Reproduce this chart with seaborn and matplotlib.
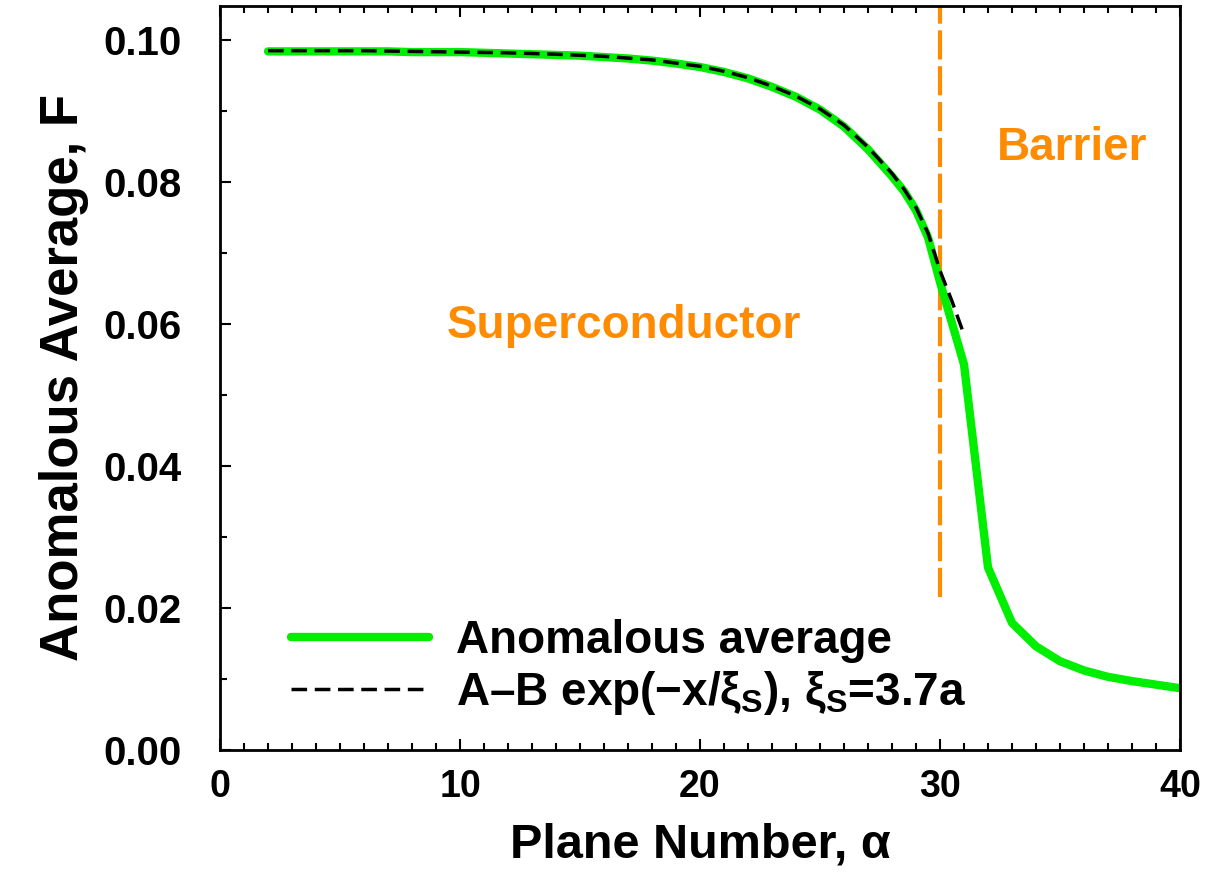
"""
Anomalous average across the superconductor / barrier interface.
"""

import numpy as np
import pandas as pd
import matplotlib
matplotlib.use("Agg")
import matplotlib.pyplot as plt
from matplotlib.ticker import MultipleLocator
import seaborn as sns

# Anomalous average per plane
planes = [2, 3, 4, 5, 6, 7, 8, 9, 10, 11, 12, 13, 14, 15, 16, 17, 18, 19, 20,
          21, 22, 23, 24, 25, 26, 27, 28, 28.5, 29, 29.5, 30, 31, 32, 33, 34,
          35, 36, 37, 38, 39, 40]
anomalous = [0.0984, 0.0984, 0.0984, 0.0984, 0.0984, 0.0984, 0.0983, 0.0983,
             0.0983, 0.0982, 0.0981, 0.0980, 0.0979, 0.0978, 0.0976, 0.0974,
             0.0971, 0.0967, 0.0962, 0.0955, 0.0946, 0.0934, 0.0920, 0.0902,
             0.0878, 0.0846, 0.0808, 0.0787, 0.0760, 0.0722, 0.0659, 0.0543,
             0.0257, 0.0179, 0.0146, 0.0125, 0.0112, 0.0103, 0.0097, 0.0092,
             0.0087]

# Exponential fit A - B exp(-x/xi_s), only over the superconductor side
fit_planes = [2, 4, 6, 8, 10, 12, 14, 16, 18, 20, 21, 22, 23, 24, 25, 26, 27,
              28, 28.5, 29, 29.5, 30, 30.5, 31]
fit_values = [0.0985, 0.0985, 0.0985, 0.0984, 0.0983, 0.0982, 0.0980, 0.0977,
              0.0972, 0.0963, 0.0956, 0.0947, 0.0935, 0.0921, 0.0903, 0.0880,
              0.0849, 0.0812, 0.0790, 0.0764, 0.0728, 0.0675, 0.0632, 0.0585]

barrier_start = 30
barrier_line_y = [0.0215, 0.11]

sns.set_theme(style="ticks")
plt.rcParams['font.family'] = ['Liberation Sans', 'DejaVu Sans']
plt.rcParams['font.weight'] = 'bold'
plt.rcParams['mathtext.fontset'] = 'custom'
plt.rcParams['mathtext.rm'] = 'Liberation Sans'
plt.rcParams['mathtext.it'] = 'Liberation Sans:italic'
for key in ['text.color', 'axes.labelcolor', 'xtick.color', 'ytick.color']:
    plt.rcParams[key] = 'black'

df = pd.DataFrame({"plane": planes, "F": anomalous})
df_fit = pd.DataFrame({"plane": fit_planes, "F": fit_values})

fig = plt.figure(figsize=(12.17, 8.75), dpi=100)
ax = fig.add_axes([0.1808, 0.1429, 0.7888, 0.8503])

orange = '#ff8c00'
ax.plot([barrier_start, barrier_start], barrier_line_y, color=orange,
        lw=3, dashes=(7, 1.6), zorder=1)

sns.lineplot(data=df, x="plane", y="F", ax=ax, color='#00ee00', lw=6,
             label="Anomalous average", zorder=2)
sns.lineplot(data=df_fit, x="plane", y="F", ax=ax, color='black', lw=2.5,
             dashes=(4.5, 2.2),
             label="A–B exp(−x/ξ$_\\mathrm{S}$), ξ$_\\mathrm{S}$=3.7a",
             zorder=3)

ax.set_xlim(0, 40)
ax.set_ylim(0, 0.1048)
ax.xaxis.set_major_locator(MultipleLocator(10))
ax.xaxis.set_minor_locator(MultipleLocator(1))
ax.yaxis.set_major_locator(MultipleLocator(0.02))
ax.yaxis.set_minor_locator(MultipleLocator(0.01))
ax.yaxis.set_major_formatter(plt.FormatStrFormatter('%.2f'))

ax.tick_params(which='both', direction='in', top=True, right=False, width=1.5)
ax.tick_params(which='major', length=8)
ax.tick_params(which='minor', length=5)
ax.tick_params(axis='x', labelsize=27, pad=14)
ax.tick_params(axis='y', labelsize=29, pad=28)
for s in ax.spines.values():
    s.set_linewidth(2)
    s.set_color('black')

ax.set_xlabel("Plane Number, α", fontsize=35, fontweight='bold', labelpad=12)
ax.set_ylabel("Anomalous Average, F", fontsize=38, fontweight='bold', labelpad=10)

ax.text(16.85, 0.0597, "Superconductor", color=orange, fontsize=33,
        fontweight='bold', ha='center', va='center')
ax.text(35.5, 0.0848, "Barrier", color=orange, fontsize=33,
        fontweight='bold', ha='center', va='center')

leg = ax.legend(loc='lower left', bbox_to_anchor=(0.055, 0.02), frameon=False,
                fontsize=33, handlelength=3.0, handletextpad=0.6,
                labelspacing=0.12, borderaxespad=0)
for t in leg.get_texts():
    t.set_fontweight('bold')
    t.set_color('black')

fig.savefig("out.png", dpi=100)
